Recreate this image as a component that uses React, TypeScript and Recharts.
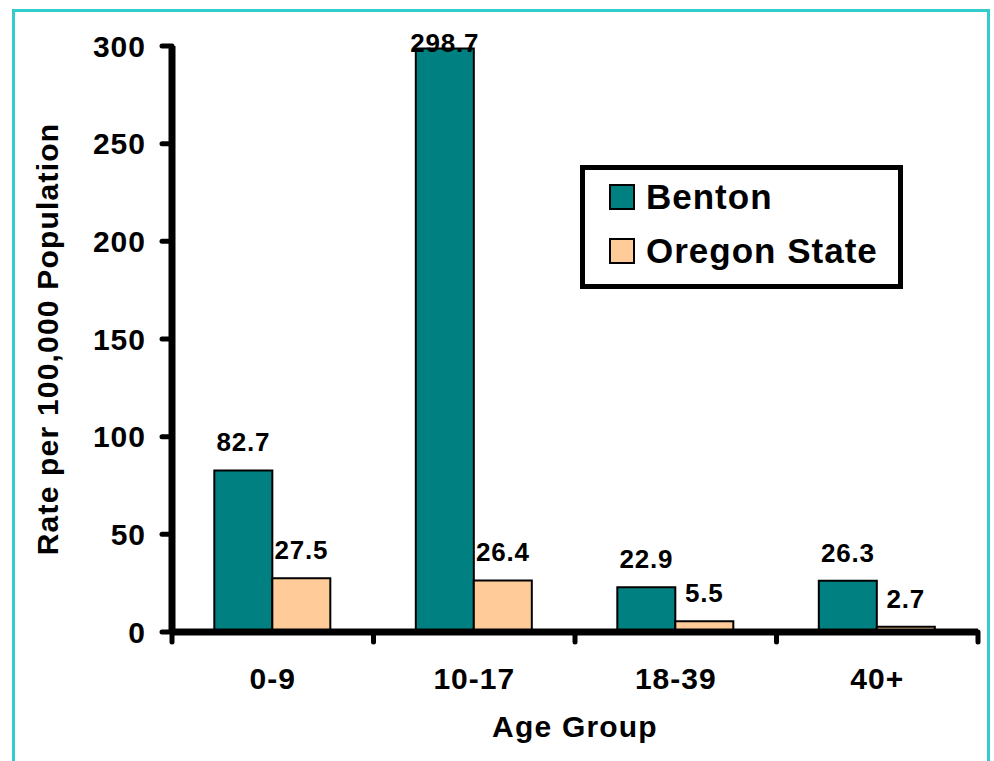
import React from 'react';
import { BarChart, Bar, XAxis, YAxis, Legend, LabelList } from 'recharts';

const ageGroups = ['0-9', '10-17', '18-39', '40+'];
const bentonRates = [82.7, 298.7, 22.9, 26.3];
const oregonRates = [27.5, 26.4, 5.5, 2.7];
const rateTicks = [0, 50, 100, 150, 200, 250, 300];

const data = ageGroups.map((group, i) => ({
  group,
  benton: bentonRates[i],
  oregon: oregonRates[i],
}));

const FONT = '"Liberation Sans", Arial, sans-serif';
const TEAL = '#008080';
const PEACH = '#FFCC99';
const LABEL_MIN_Y = 52;

const textStyle = { fontSize: 30, fontWeight: 'bold', fontFamily: FONT, fill: '#000', letterSpacing: '1px' };
const titleStyle = { ...textStyle, letterSpacing: '1.2px' };

// category ticks sit on the band edges, not the centres
function AgeTick(props: any) {
  const { x, y, payload, index, visibleTicksCount } = props;
  const half = payload?.offset ?? 0;
  const axisY = y - 36;
  const isLast = index === visibleTicksCount - 1;
  return (
    <g>
      <line x1={x - half} x2={x - half} y1={axisY} y2={axisY + 10} stroke="#000" strokeWidth={5} strokeLinecap="round" />
      {isLast && (
        <line x1={x + half} x2={x + half} y1={axisY} y2={axisY + 10} stroke="#000" strokeWidth={5} strokeLinecap="round" />
      )}
      <text x={x} y={y} dy="0.71em" textAnchor="middle" style={textStyle}>
        {payload.value}
      </text>
    </g>
  );
}

function RateTick(props: any) {
  const { x, y, payload } = props;
  return (
    <text x={x} y={y} dy="0.355em" textAnchor="end" style={textStyle}>
      {payload.value}
    </text>
  );
}

function ValueLabel(props: any) {
  const { x, y, width, value } = props;
  const baseline = Math.max(Number(y) - 19, LABEL_MIN_Y);
  return (
    <text x={Number(x) + Number(width) / 2} y={baseline} textAnchor="middle" style={{ ...textStyle, fontSize: 26, letterSpacing: '0.8px' }}>
      {value}
    </text>
  );
}

function LegendBox({ payload }: any) {
  return (
    <div style={{ width: 323, height: 124, border: '5px solid #000', boxSizing: 'border-box', background: '#fff', paddingLeft: 24 }}>
      {(payload ?? []).map((entry: any) => (
        <div key={entry.value} style={{ display: 'flex', alignItems: 'center', height: 54 }}>
          <span style={{ display: 'inline-block', width: 26, height: 26, background: entry.color, border: '2px solid #000', boxSizing: 'border-box', marginRight: 11 }} />
          <span style={{ fontSize: 35, fontWeight: 'bold', fontFamily: FONT, color: '#000', lineHeight: '54px', letterSpacing: '1px' }}>
            {entry.value}
          </span>
        </div>
      ))}
    </div>
  );
}

export default function App() {
  return (
    <div style={{ position: 'absolute', top: 0, left: 0, width: 994, height: 761, overflow: 'hidden', background: '#fff' }}>
      <div style={{ position: 'absolute', left: 12, top: 9, width: 978, height: 800, border: '3px solid #33CCCC', boxSizing: 'border-box' }} />
      <div style={{ position: 'absolute', left: 0, top: 0 }}>
        <BarChart
          width={994}
          height={761}
          data={data}
          margin={{ top: 46, right: 16, left: 0, bottom: 19 }}
          barCategoryGap="21%"
          barGap={0}
        >
          <XAxis
            dataKey="group"
            height={110}
            axisLine={{ stroke: '#000', strokeWidth: 7 }}
            tickLine={false}
            tickSize={0}
            tickMargin={36}
            tick={<AgeTick />}
            interval={0}
            label={{ value: 'Age Group', position: 'insideBottom', offset: 5, style: titleStyle }}
          />
          <YAxis
            width={172}
            domain={[0, 300]}
            ticks={rateTicks}
            interval={0}
            axisLine={{ stroke: '#000', strokeWidth: 7 }}
            tickLine={{ stroke: '#000', strokeWidth: 5, strokeLinecap: 'round' }}
            tickSize={10}
            tickMargin={16}
            tick={<RateTick />}
            label={{
              value: 'Rate per 100,000 Population',
              angle: -90,
              position: 'insideLeft',
              offset: 47,
              style: { ...titleStyle, textAnchor: 'middle' },
            }}
          />
          <Legend
            layout="vertical"
            align="center"
            verticalAlign="middle"
            wrapperStyle={{ left: 580, top: 165, width: 323, height: 124 }}
            content={<LegendBox />}
          />
          <Bar dataKey="benton" name="Benton" fill={TEAL} stroke="#000" strokeWidth={2} isAnimationActive={false}>
            <LabelList dataKey="benton" content={<ValueLabel />} />
          </Bar>
          <Bar dataKey="oregon" name="Oregon State" fill={PEACH} stroke="#000" strokeWidth={2} isAnimationActive={false}>
            <LabelList dataKey="oregon" content={<ValueLabel />} />
          </Bar>
        </BarChart>
      </div>
    </div>
  );
}
